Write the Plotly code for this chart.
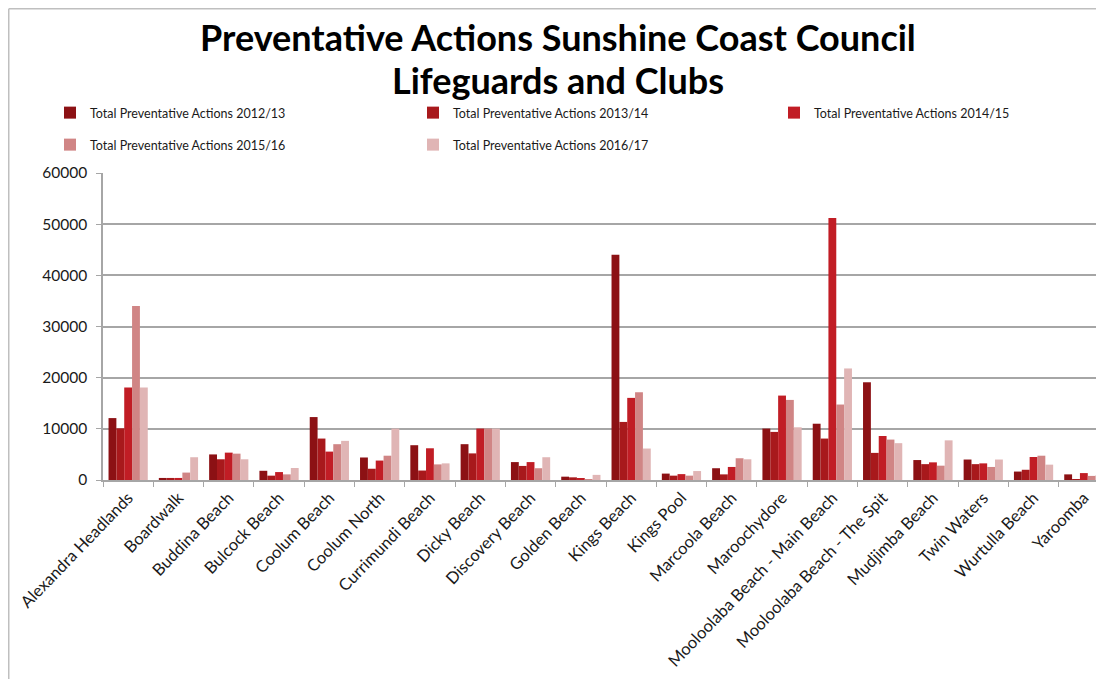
import plotly.graph_objects as go

categories = ["Alexandra Headlands", "Boardwalk", "Buddina Beach", "Bulcock Beach", "Coolum Beach",
              "Coolum North", "Currimundi Beach", "Dicky Beach", "Discovery Beach", "Golden Beach",
              "Kings Beach", "Kings Pool", "Marcoola Beach", "Maroochydore", "Mooloolaba Beach - Main Beach",
              "Mooloolaba Beach - The Spit", "Mudjimba Beach", "Twin Waters", "Wurtulla Beach", "Yaroomba"]

series_names = ["Total Preventative Actions 2012/13", "Total Preventative Actions 2013/14",
                "Total Preventative Actions 2014/15", "Total Preventative Actions 2015/16",
                "Total Preventative Actions 2016/17"]

v2012 = [12100, 400, 5000, 1800, 12300, 4400, 6800, 7000, 3500, 650, 44000, 1250, 2300, 10050, 11000, 19100, 3900, 4000, 1650, 1100]
v2013 = [10100, 400, 4050, 850, 8100, 2200, 1850, 5200, 2750, 520, 11350, 850, 1100, 9400, 8100, 5300, 3100, 3100, 2000, 130]
v2014 = [18100, 400, 5350, 1550, 5550, 3800, 6200, 10050, 3500, 200, 16050, 1150, 2550, 16500, 51200, 8600, 3450, 3250, 4500, 1350]
v2015 = [34000, 1450, 5150, 1100, 7000, 4750, 3050, 10050, 2300, 60, 17150, 850, 4250, 15650, 14750, 7900, 2800, 2550, 4750, 800]
v2016 = [18100, 4450, 4050, 2350, 7650, 10050, 3250, 10050, 4450, 1000, 6150, 1750, 4050, 10300, 21800, 7200, 7750, 4000, 3000, 980]

y_ticks = [0, 10000, 20000, 30000, 40000, 50000, 60000]

title_line1 = "Preventative Actions Sunshine Coast Council"
title_line2 = "Lifeguards and Clubs"

colors = ["#8C1114", "#A8191C", "#C11D25", "#D08585", "#E0B5B5"]
values = [v2012, v2013, v2014, v2015, v2016]

FONT = "Lato"
W, H = 1104, 679
OFF = 8  # page body margin of the browser
# targets in screenshot pixels converted to figure pixels
L = 103 - OFF
T = 173 - OFF
B = H - (480 - OFF)
R = 0
pw, ph = W - L - R, H - T - B
cat_px = 50.3
x_hi = -0.5 + pw / cat_px


def px_x(p):
    return (p - OFF - L) / pw


def px_y(p):
    return (H - B - (p - OFF)) / ph


# legend slot positions (screenshot pixels): column x, row y
legend_pos = [(50, 113), (413, 113), (774, 113), (50, 145), (413, 145)]

fig = go.Figure()
layout_legends = {}
for i, (name, vals, col) in enumerate(zip(series_names, values, colors)):
    key = "legend" if i == 0 else f"legend{i + 1}"
    fig.add_trace(go.Bar(x=categories, y=vals, name=name, marker_color=col,
                         marker_line_width=0, legend=key, showlegend=True))
    lx, ly = legend_pos[i]
    layout_legends[key] = dict(orientation="h", x=px_x(lx), xanchor="left", y=px_y(ly),
                               yanchor="middle", font=dict(size=12.5, color="#1a1a1a"),
                               itemwidth=30, bgcolor="rgba(0,0,0,0)", visible=True)

fig.update_layout(
    width=W, height=H,
    showlegend=True,
    margin=dict(l=L, r=R, t=T, b=B, autoexpand=False),
    paper_bgcolor="white", plot_bgcolor="white",
    barmode="group", bargap=0.22, bargroupgap=0,
    font=dict(family=FONT, size=13, color="#1a1a1a"),
    xaxis=dict(type="category", range=[-0.5, x_hi], showline=True, linecolor="#A6A6A6", linewidth=1.5,
               ticks="outside", tickson="boundaries", ticklen=5, tickcolor="#A6A6A6",
               tickangle=-46, tickfont=dict(size=16.5, color="#1a1a1a"), showgrid=False),
    yaxis=dict(range=[0, 60000], tickvals=y_ticks, tickformat="d", showline=True, linecolor="#A6A6A6",
               linewidth=1.5, ticks="outside", ticklen=5, tickcolor="#A6A6A6", showgrid=True,
               gridcolor="#A6A6A6", gridwidth=1.5, zeroline=False,
               tickfont=dict(size=15.5, color="#1a1a1a"), ticklabelstandoff=6),
    annotations=[
        dict(text="<b>" + title_line1 + "</b>", xref="paper", yref="paper", x=px_x(558), y=px_y(37),
             xanchor="center", yanchor="middle", showarrow=False,
             font=dict(family=FONT, size=36, color="black")),
        dict(text="<b>" + title_line2 + "</b>", xref="paper", yref="paper", x=px_x(558), y=px_y(80),
             xanchor="center", yanchor="middle", showarrow=False,
             font=dict(family=FONT, size=36, color="black")),
    ],
    shapes=[
        dict(type="line", xref="paper", yref="paper", x0=px_x(8.75), x1=px_x(1120),
             y0=px_y(8.75), y1=px_y(8.75), line=dict(color="#BFBFBF", width=1.5)),
        dict(type="line", xref="paper", yref="paper", x0=px_x(8.75), x1=px_x(8.75),
             y0=px_y(8.75), y1=px_y(700), line=dict(color="#BFBFBF", width=1.5)),
    ],
    **layout_legends,
)

fig.write_html("out.html")
